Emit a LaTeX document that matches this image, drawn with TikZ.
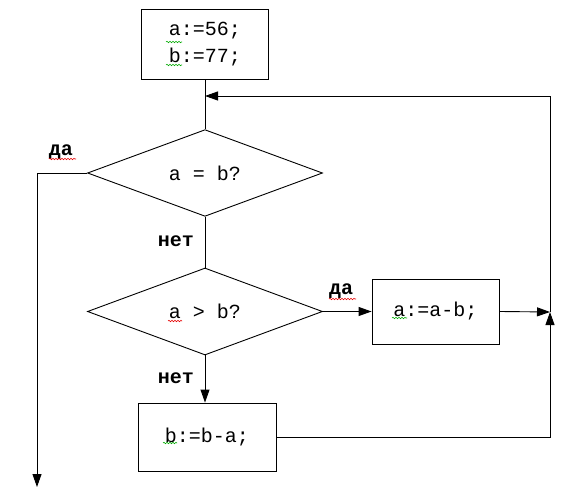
\documentclass[tikz,border=0pt]{standalone}
\usepackage{fontspec}
\setmainfont{Liberation Mono}
\usetikzlibrary{shapes.geometric,arrows.meta,decorations.pathmorphing}
\tikzset{
  base/.style={draw=black, line width=0.9pt, inner sep=0pt, font=\fontsize{20}{23}\selectfont},
  procbox/.style={base, rectangle, align=center},
  decide/.style={base, diamond},
  lbl/.style={font=\fontsize{20}{23}\selectfont\bfseries, inner sep=0pt},
  conn/.style={line width=0.9pt, draw=black},
  arr/.style={conn, -{Triangle[length=13pt,width=9pt]}},
  squig/.style={decorate, decoration={snake, segment length=3pt, amplitude=0.7pt}, line width=0.6pt},
}
\definecolor{spellred}{RGB}{230,0,0}
\definecolor{spellgreen}{RGB}{0,170,0}
\begin{document}
\begin{tikzpicture}[x=1pt,y=-1pt]
\useasboundingbox (0,0) rectangle (576,489);
% nodes
\node[procbox, minimum width=127pt, minimum height=70pt] (init) at (205,44) {a:=56;\\[4pt]b:=77;};
\node[decide, minimum width=235pt, minimum height=86pt] (d1) at (205,173) {a = b?};
\node[decide, minimum width=235pt, minimum height=87pt] (d2) at (205,311.5) {a > b?};
\node[procbox, minimum width=127pt, minimum height=65pt] (box2) at (435.5,311.5) {a:=a-b;};
\node[procbox, minimum width=138pt, minimum height=68pt] (box3) at (207,437) {b:=b-a;};
% labels
\node[lbl] (yes1) at (61,152) {да};
\node[lbl] (no1) at (176,241) {нет};
\node[lbl] (yes2) at (341,291) {да};
\node[lbl] (no2) at (176,378) {нет};
% coordinates
\coordinate (join) at (205,96);
\coordinate (rt) at (550,96);
\coordinate (rm) at (550,312);
\coordinate (exit) at (37,487);
% connectors
\draw[conn] (init.south) -- (d1.north);
\draw[arr] (rm) -- (rt) -- (join);
\draw[conn] (d1.south) -- (d2.north);
\draw[arr] (d1.west) -| (exit);
\draw[arr] (d2.east) -- (box2.west);
\draw[arr] (d2.south) -- (d2.south |- box3.north);
\draw[arr] (box2.east) -- (rm);
\draw[arr] (box3.east) -| (rm);
% spelling squiggles
\draw[squig, spellgreen] (166,42) -- (182,42);
\draw[squig, spellgreen] (166,65) -- (182,65);
\draw[squig, spellred] (49,159) -- (76,159);
\draw[squig, spellred] (168,321) -- (182,321);
\draw[squig, spellred] (329,299) -- (356,299);
\draw[squig, spellgreen] (392,318) -- (407,318);
\draw[squig, spellgreen] (163,443) -- (177,443);
\end{tikzpicture}
\end{document}
